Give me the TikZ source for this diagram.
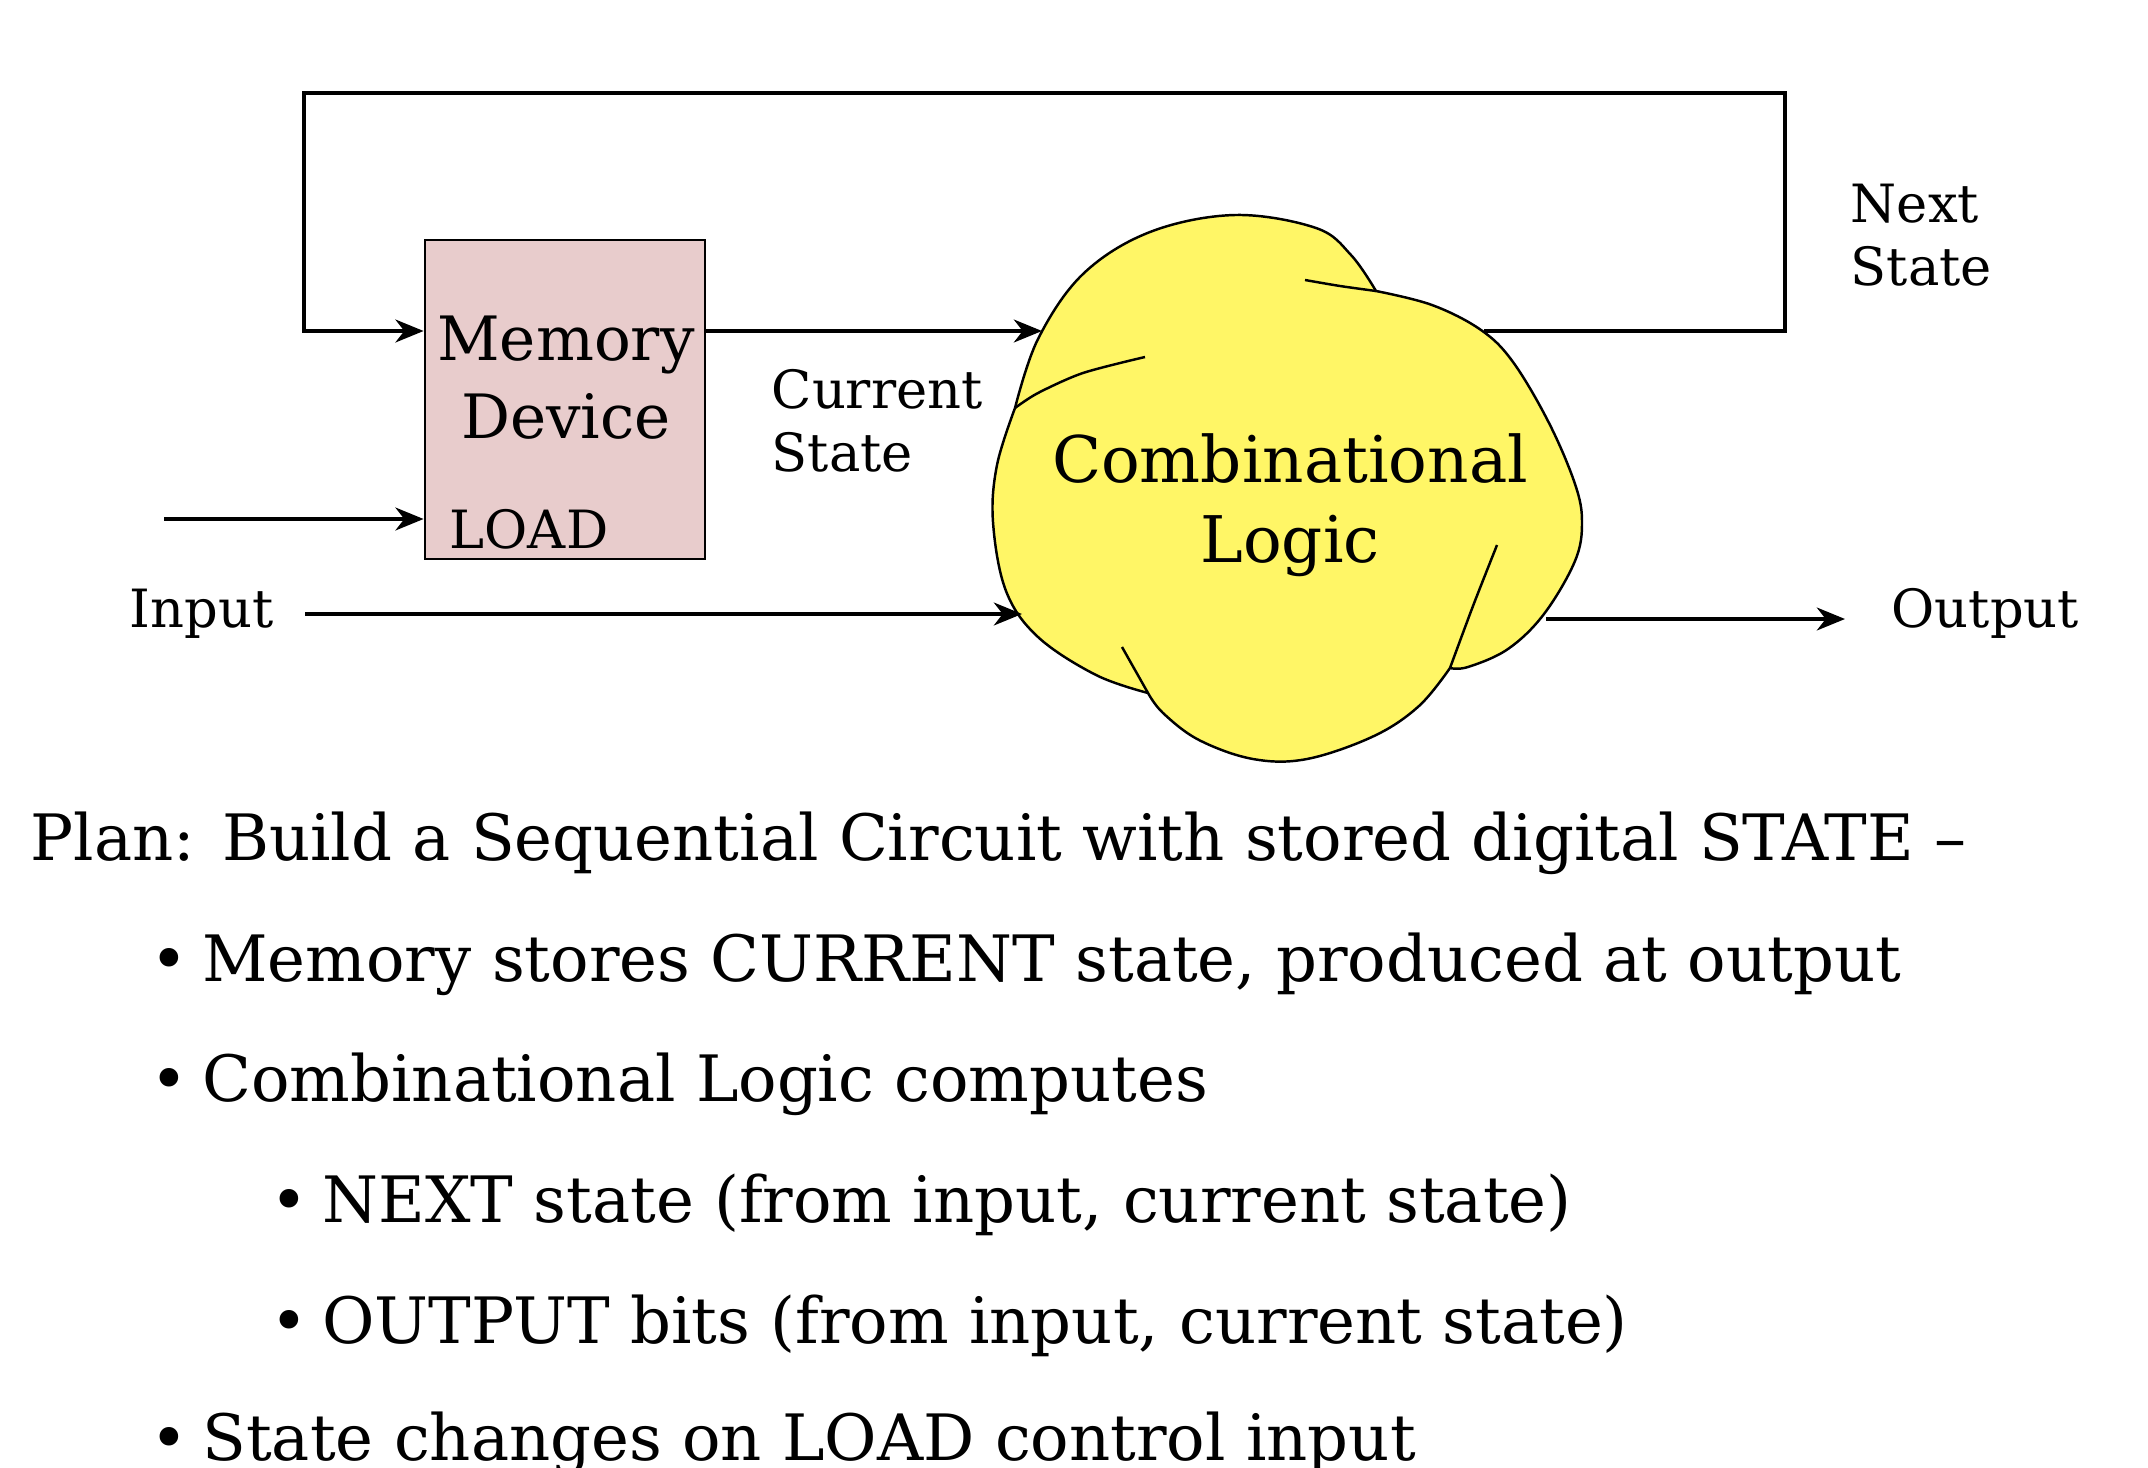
\documentclass[tikz,border=0pt]{standalone}
\usepackage{fontspec}
\setmainfont{DejaVu Serif}
\usepackage{tikz}
\usetikzlibrary{arrows.meta, calc}

\definecolor{memfill}{RGB}{232,204,204}
\definecolor{blobfill}{RGB}{255,246,102}

\tikzset{
	wire/.style = {line width = 1.1pt},
	sig/.style = {wire, -{Stealth[length = 8pt, width = 6.5pt, inset = 2.5pt]}},
	blob/.style = {fill = blobfill, draw = black, line width = 0.7pt},
	seam/.style = {draw = black, line width = 0.7pt},
	lbl/.style = {font = \fontsize{15}{18}\selectfont, inner sep = 0pt, anchor = base west},
	big/.style = {font = \fontsize{18.3}{22}\selectfont, inner sep = 0pt, anchor = base},
	txt/.style = {font = \fontsize{18.2}{22}\selectfont, inner sep = 0pt, anchor = base west}
}

\begin{document}
\begin{tikzpicture}[x = 0.1mm, y = -0.1mm]
				\useasboundingbox[fill = white] (0,0) rectangle (2148,1468);

				\filldraw[blob] plot[smooth, tension = 0.6] coordinates {(1015,408) (1038,339) (1083,274) (1150,232) (1235,215) (1316,228) (1351,255) (1376,291)}
					-- plot[smooth, tension = 0.6] coordinates {(1376,291) (1432,305) (1481,330) (1513,362) (1549,423) (1575,484) (1582,522) (1575,561) (1544,614) (1508,649) (1468,667) (1450,668)}
					-- plot[smooth, tension = 0.6] coordinates {(1450,668) (1419,706) (1374,736) (1307,759) (1253,759) (1199,740) (1163,713) (1148,693)}
					-- plot[smooth, tension = 0.6] coordinates {(1148,693) (1096,675) (1038,637) (1006,591) (993,522) (997,465) (1015,408)}
					-- cycle;
				\draw[seam] plot[smooth] coordinates {(1305,280) (1340,286) (1376,291)};
				\draw[seam] plot[smooth] coordinates {(1497,545) (1473,606) (1450,668)};
				\draw[seam] plot[smooth] coordinates {(1122,647) (1135,670) (1148,693)};
				\draw[seam] plot[smooth] coordinates {(1145,357) (1083,373) (1038,393) (1015,408)};

				\node (mem) at (565,399.5)[draw, fill = memfill, line width = 0.8pt, minimum width = 28mm, minimum height = 31.9mm]{};
				\node (memA) at (566,360)[big, font = \fontsize{17.4}{21}\selectfont]{Memory};
				\node (memB) at (566,438)[big, font = \fontsize{17.4}{21}\selectfont]{Device};
				\node (load) at (449,548)[lbl]{LOAD};

				\node (comb) at (1290,482)[big]{Combinational};
				\node (logic) at (1290,562)[big]{Logic};

				\node (cur) at (771,408)[lbl]{Current};
				\node (curst) at (771,471)[lbl]{State};
				\node (nxt) at (1850,222)[lbl]{Next};
				\node (nxtst) at (1850,285)[lbl]{State};
				\node (input) at (129,627)[lbl]{Input};
				\node (output) at (1891,627)[lbl]{Output};

				\coordinate (cs) at (1042,331);
				\coordinate (ns) at (1484,331);
				\coordinate (fbr) at (1785,331);
				\coordinate (fbtr) at (1785,93);
				\coordinate (fbtl) at (304,93);
				\coordinate (fbl) at (304,331);
				\coordinate (ld) at (164,519);
				\coordinate (in) at (305,614);
				\coordinate (inb) at (1022,614);
				\coordinate (outb) at (1546,619);
				\coordinate (out) at (1845,619);

				\draw[sig] (ns) -- (fbr) -- (fbtr) -- (fbtl) -- (fbl) -- (fbl -| mem.west);
				\draw[sig] (mem.east |- cs) -- (cs);
				\draw[sig] (ld) -- (ld -| mem.west);
				\draw[sig] (in) -- (inb);
				\draw[sig] (outb) -- (out);

				\node (plan) at (30,860)[txt]{Plan: Build a Sequential Circuit with stored digital STATE –};
				\node (b1) at (150,981)[txt]{•\hspace{4pt}Memory stores CURRENT state, produced at output};
				\node (b2) at (150,1101)[txt]{•\hspace{4pt}Combinational Logic computes};
				\node (b3) at (270,1222)[txt]{•\hspace{4pt}NEXT state (from input, current state)};
				\node (b4) at (270,1343)[txt]{•\hspace{4pt}OUTPUT bits (from input, current state)};
				\node (b5) at (150,1460)[txt]{•\hspace{4pt}State changes on LOAD control input};
			\end{tikzpicture}
\end{document}
